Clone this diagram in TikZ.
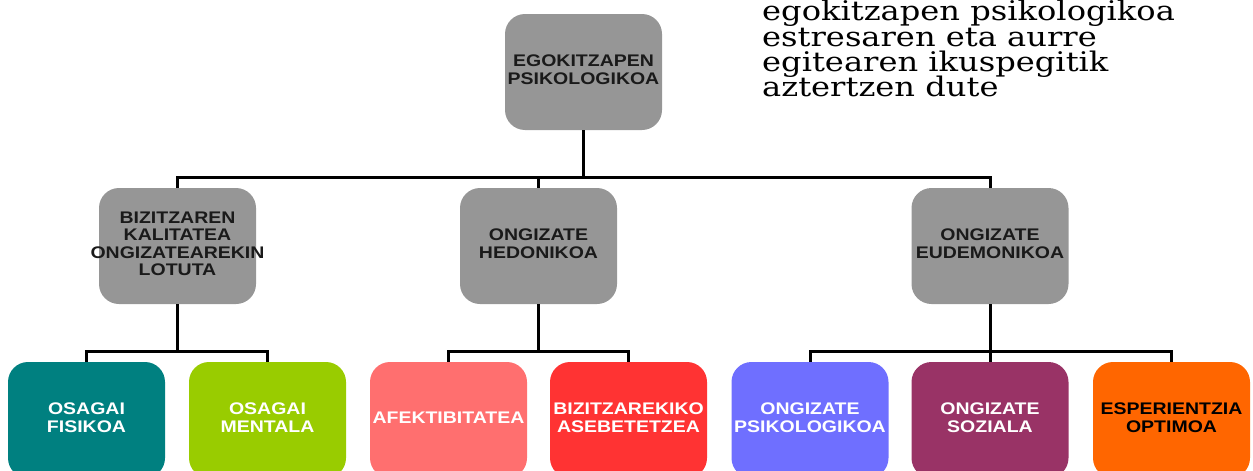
\documentclass[tikz,border=0pt]{standalone}
\usepackage{fontspec}
\setmainfont{Liberation Sans}
\newfontfamily\boxfont[FakeStretch=1.16]{Liberation Sans}
\newfontfamily\notefont[FakeStretch=1.19]{DejaVu Serif}
\definecolor{boxgray}{HTML}{969696}
\definecolor{cteal}{HTML}{008080}
\definecolor{cgreen}{HTML}{99CC00}
\definecolor{csalmon}{HTML}{FF6F6F}
\definecolor{cred}{HTML}{FF3333}
\definecolor{cblue}{HTML}{6F6FFF}
\definecolor{cplum}{HTML}{993366}
\definecolor{corange}{HTML}{FF6600}
\definecolor{darktext}{HTML}{1A1A1A}
% centred lines that may run past the card edges without widening it
\newcommand{\cardtext}[1]{\makebox[0pt]{\begin{tabular}{@{}c@{}}#1\end{tabular}}}
\tikzset{
  card/.style={rectangle, rounded corners=20pt, minimum width=157pt,
    minimum height=116pt, inner sep=0pt,
    font=\boxfont\bfseries\fontsize{16.8}{17.5}\selectfont},
  graycard/.style={card, fill=boxgray, text=darktext},
  colcard/.style={card, fill=#1, text=white},
  link/.style={draw=black, line width=3pt},
  note/.style={anchor=base west, inner sep=0pt, text=black,
    font=\notefont\fontsize{27}{25}\selectfont}
}
\begin{document}
\begin{tikzpicture}[x=1pt, y=-1pt]
\useasboundingbox (0,0) rectangle (1253,471);

% root
\node[graycard] (root) at (583.5,72) {\cardtext{EGOKITZAPEN\\PSIKOLOGIKOA}};

% side note
\node[note] (n1) at (762,20.5) {egokitzapen psikologikoa};
\node[note] (n2) at (762,46) {estresaren eta aurre};
\node[note] (n3) at (762,71) {egitearen ikuspegitik};
\node[note] (n4) at (762,96.5) {aztertzen dute};

% second level
\node[graycard] (m1) at (177.5,246) {\cardtext{BIZITZAREN\\KALITATEA\\ONGIZATEAREKIN\\LOTUTA}};
\node[graycard] (m2) at (538.5,246) {\cardtext{ONGIZATE\\HEDONIKOA}};
\node[graycard] (m3) at (990,246) {\cardtext{ONGIZATE\\EUDEMONIKOA}};

% third level
\node[colcard=cteal]   (b1) at (86.5,420)  {\cardtext{OSAGAI\\FISIKOA}};
\node[colcard=cgreen]  (b2) at (267.5,420) {\cardtext{OSAGAI\\MENTALA}};
\node[colcard=csalmon] (b3) at (448.5,420) {\cardtext{AFEKTIBITATEA}};
\node[colcard=cred]    (b4) at (628.5,420) {\cardtext{BIZITZAREKIKO\\ASEBETETZEA}};
\node[colcard=cblue]   (b5) at (810,420)   {\cardtext{ONGIZATE\\PSIKOLOGIKOA}};
\node[colcard=cplum]   (b6) at (990,420)   {\cardtext{ONGIZATE\\SOZIALA}};
\node[colcard=corange, text=black] (b7) at (1171.5,420) {\cardtext{ESPERIENTZIA\\OPTIMOA}};

% junctions of the connectors
\coordinate (j0) at (583.5,177);
\coordinate (j1) at (177.5,351);
\coordinate (j2) at (538.5,351);
\coordinate (j3) at (990,351);

% root to second level
\draw[link] (root.south) -- (j0);
\draw[link] (m1.north) |- (j0);
\draw[link] (m3.north) |- (j0);
\draw[link] (m2.north) -- (m2.north |- j0);

% second level to third level
\draw[link] (m1.south) -- (j1);
\draw[link] (b1.north) |- (j1);
\draw[link] (b2.north) |- (j1);
\draw[link] (m2.south) -- (j2);
\draw[link] (b3.north) |- (j2);
\draw[link] (b4.north) |- (j2);
\draw[link] (m3.south) -- (j3);
\draw[link] (b5.north) |- (j3);
\draw[link] (b7.north) |- (j3);
\draw[link] (b6.north) -- (j3);
\end{tikzpicture}
\end{document}
